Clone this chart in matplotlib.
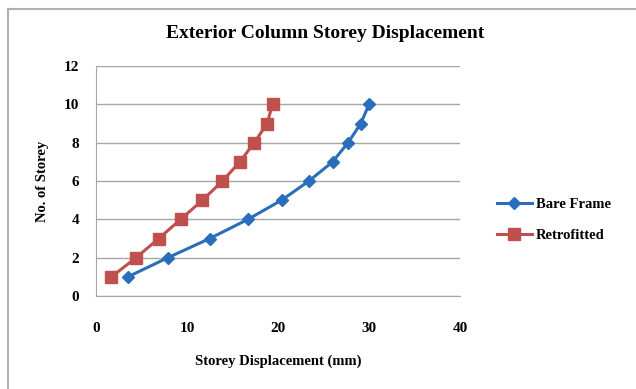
import numpy as np
import matplotlib
matplotlib.use('Agg')
import matplotlib.pyplot as plt
from matplotlib.lines import Line2D

storeys = [1, 2, 3, 4, 5, 6, 7, 8, 9, 10]
bare_frame = [3.5, 7.9, 12.5, 16.7, 20.4, 23.4, 26.0, 27.7, 29.1, 30.0]
retrofitted = [1.7, 4.4, 6.9, 9.3, 11.7, 13.9, 15.8, 17.4, 18.8, 19.4]

plt.rcParams['font.family'] = ['Liberation Serif', 'DejaVu Serif']
plt.rcParams['font.weight'] = 'bold'

fig = plt.figure(figsize=(6.36, 3.89), dpi=100)
ax = fig.add_axes([96 / 636, 1 - 296 / 389, 364 / 636, 230 / 389])

ax.plot(bare_frame, storeys, color='#2a6ebb', lw=2.2, marker='D', ms=6,
        markeredgecolor='#2a6ebb', label='Bare Frame')
ax.plot(retrofitted, storeys, color='#c0504d', lw=2.2, marker='s', ms=8,
        markeredgecolor='#c0504d', label='Retrofitted')

ax.set_xlim(0, 40)
ax.set_ylim(0, 12)
ax.set_xticks([0, 10, 20, 30, 40])
ax.set_yticks([0, 2, 4, 6, 8, 10, 12])
ax.yaxis.grid(True, color='#a6a6a6', lw=1)
ax.set_axisbelow(True)
for s in ['top', 'right']:
    ax.spines[s].set_visible(False)
for s in ['left', 'bottom']:
    ax.spines[s].set_color('#a6a6a6')
ax.tick_params(length=0, labelsize=11, pad=12)
ax.tick_params(axis='x', pad=19)
for lbl in ax.get_xticklabels() + ax.get_yticklabels():
    lbl.set_fontweight('bold')

ax.set_xlabel('Storey Displacement (mm)', fontsize=10.5, fontweight='bold', labelpad=14)
ax.set_ylabel('No. of Storey', fontsize=10.5, fontweight='bold', labelpad=11)
fig.text(325 / 636, 1 - 33 / 389, 'Exterior Column Storey Displacement',
         ha='center', va='center', fontsize=14, fontweight='bold')

ax.legend(loc='center left', bbox_to_anchor=(1.065, 0.33), frameon=False,
          handlelength=2.4, labelspacing=1.2, handletextpad=0.3,
          prop={'weight': 'bold', 'size': 10.5})

# outer chart border (left and top edges visible)
fig.add_artist(Line2D([8 / 636, 8 / 636], [0, 1 - 9 / 389], transform=fig.transFigure,
                      color='#b0b0b0', lw=1.5))
fig.add_artist(Line2D([8 / 636, 1], [1 - 9 / 389, 1 - 9 / 389], transform=fig.transFigure,
                      color='#b0b0b0', lw=1.5))

fig.savefig('out.png', dpi=100)
